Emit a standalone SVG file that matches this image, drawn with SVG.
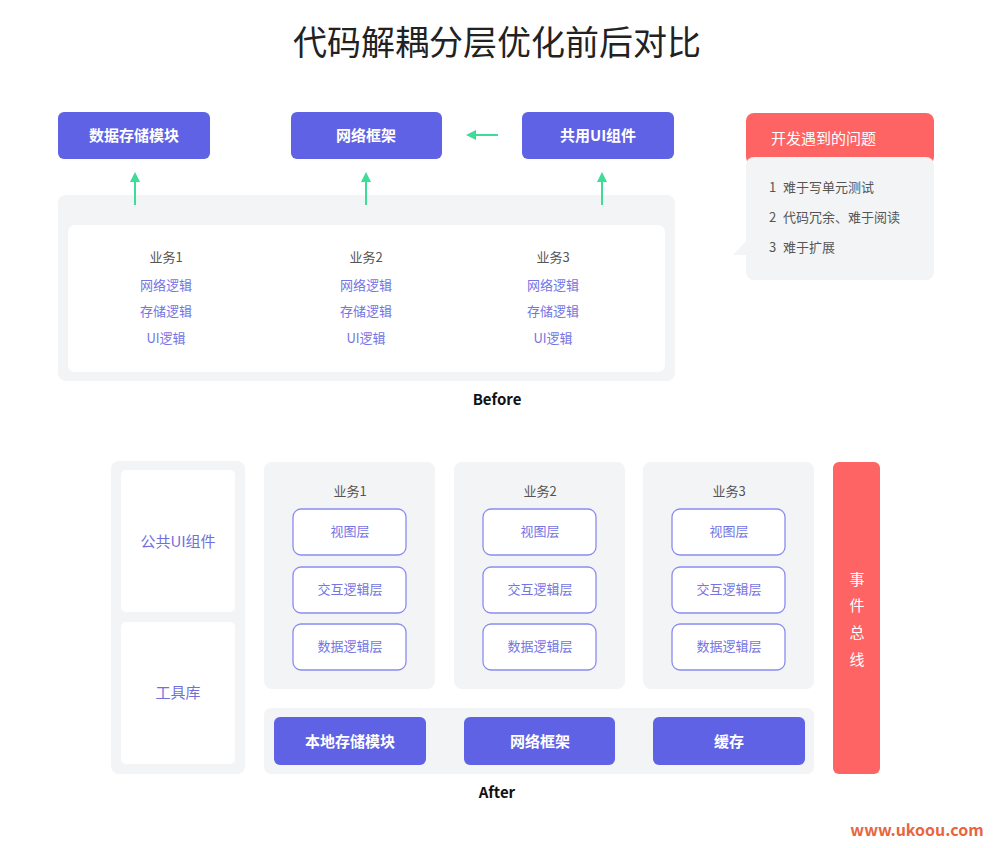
<svg xmlns="http://www.w3.org/2000/svg" width="1000" height="848" viewBox="0 0 1000 848">
<defs>
<style>
text{font-family:"Noto Sans CJK SC","Noto Sans",sans-serif;text-anchor:middle;dominant-baseline:central}
.title{font-size:34px;fill:#222}
.btn{fill:#6062e6}
.btnt{font-size:15px;fill:#fff;font-weight:bold}
.panel{fill:#f3f4f6}
.white{fill:#fff}
.biz{font-size:13px;fill:#555}
.logic{font-size:13px;fill:#7474e4}
.layer{fill:#fff;stroke:#8a8cf0;stroke-width:1.3}
.layert{font-size:13px;fill:#7474e4}
.lab{font-size:15px;font-weight:bold;fill:#111}
.prob{font-size:13px;fill:#555;text-anchor:start}
.arrow{stroke:#3ddc97;stroke-width:2;fill:none}
.side{font-size:15px;fill:#6f6fe0}
.bus{font-size:15px;fill:#fff}
</style>
<marker id="ah" viewBox="0 0 10 10" refX="8" refY="5" markerWidth="5" markerHeight="5" orient="auto">
<path d="M0,0 L10,5 L0,10 z" fill="#3ddc97"/>
</marker>
</defs>
<rect width="1000" height="848" fill="#fff"/>
<text class="title" x="497" y="40">代码解耦分层优化前后对比</text>

<!-- Before -->
<g id="before-container">
<rect class="panel" x="58" y="195" width="617" height="186" rx="8"/>
<rect class="white" x="68" y="225" width="597" height="147" rx="7"/>
</g>
<g id="before-biz1">
<text class="biz" x="166" y="256">业务1</text>
<text class="logic" x="166" y="284">网络逻辑</text>
<text class="logic" x="166" y="310">存储逻辑</text>
<text class="logic" x="166" y="337">UI逻辑</text>
</g>
<g id="before-biz2">
<text class="biz" x="366" y="256">业务2</text>
<text class="logic" x="366" y="284">网络逻辑</text>
<text class="logic" x="366" y="310">存储逻辑</text>
<text class="logic" x="366" y="337">UI逻辑</text>
</g>
<g id="before-biz3">
<text class="biz" x="553" y="256">业务3</text>
<text class="logic" x="553" y="284">网络逻辑</text>
<text class="logic" x="553" y="310">存储逻辑</text>
<text class="logic" x="553" y="337">UI逻辑</text>
</g>
<g id="node-storage">
<rect class="btn" x="58" y="112" width="152" height="47" rx="6"/>
<text class="btnt" x="134" y="134">数据存储模块</text>
</g>
<g id="node-network">
<rect class="btn" x="291" y="112" width="151" height="47" rx="6"/>
<text class="btnt" x="366" y="134">网络框架</text>
</g>
<g id="node-ui">
<rect class="btn" x="522" y="112" width="152" height="47" rx="6"/>
<text class="btnt" x="598" y="134">共用UI组件</text>
</g>
<g id="connectors">
<line class="arrow" x1="135" y1="205" x2="135" y2="174" marker-end="url(#ah)"/>
<line class="arrow" x1="366" y1="205" x2="366" y2="174" marker-end="url(#ah)"/>
<line class="arrow" x1="602" y1="205" x2="602" y2="174" marker-end="url(#ah)"/>
<line class="arrow" x1="498" y1="135" x2="468" y2="135" marker-end="url(#ah)"/>
</g>
<text class="lab" x="497" y="398">Before</text>

<g id="problems">
<rect x="746" y="113" width="188" height="52" rx="8" fill="#ff6464"/>
<text x="771" y="137" style="font-size:15px;fill:#fff;text-anchor:start">开发遇到的问题</text>
<rect class="panel" x="746" y="157" width="188" height="123" rx="8"/>
<path d="M747,240 L733,255 L747,255 z" fill="#f3f4f6"/>
<text class="prob" x="769" y="186">1<tspan x="783">难于写单元测试</tspan></text>
<text class="prob" x="769" y="216">2<tspan x="783">代码冗余、难于阅读</tspan></text>
<text class="prob" x="769" y="246">3<tspan x="783">难于扩展</tspan></text>
</g>

<!-- After -->
<g id="after-left">
<rect class="panel" x="111" y="461" width="134" height="313" rx="8"/>
<rect class="white" x="121" y="470" width="114" height="142" rx="5"/>
<rect class="white" x="121" y="622" width="114" height="142" rx="5"/>
<text class="side" x="178" y="540">公共UI组件</text>
<text class="side" x="178" y="691">工具库</text>
</g>
<g id="after-biz1">
<rect class="panel" x="264" y="462" width="171" height="227" rx="8"/>
<text class="biz" x="350" y="490">业务1</text>
<rect class="layer" x="293" y="509" width="113" height="46" rx="8"/>
<text class="layert" x="350" y="530">视图层</text>
<rect class="layer" x="293" y="567" width="113" height="46" rx="8"/>
<text class="layert" x="350" y="588">交互逻辑层</text>
<rect class="layer" x="293" y="624" width="113" height="46" rx="8"/>
<text class="layert" x="350" y="645">数据逻辑层</text>
</g>
<g id="after-biz2">
<rect class="panel" x="454" y="462" width="171" height="227" rx="8"/>
<text class="biz" x="540" y="490">业务2</text>
<rect class="layer" x="483" y="509" width="113" height="46" rx="8"/>
<text class="layert" x="540" y="530">视图层</text>
<rect class="layer" x="483" y="567" width="113" height="46" rx="8"/>
<text class="layert" x="540" y="588">交互逻辑层</text>
<rect class="layer" x="483" y="624" width="113" height="46" rx="8"/>
<text class="layert" x="540" y="645">数据逻辑层</text>
</g>
<g id="after-biz3">
<rect class="panel" x="643" y="462" width="171" height="227" rx="8"/>
<text class="biz" x="729" y="490">业务3</text>
<rect class="layer" x="672" y="509" width="113" height="46" rx="8"/>
<text class="layert" x="729" y="530">视图层</text>
<rect class="layer" x="672" y="567" width="113" height="46" rx="8"/>
<text class="layert" x="729" y="588">交互逻辑层</text>
<rect class="layer" x="672" y="624" width="113" height="46" rx="8"/>
<text class="layert" x="729" y="645">数据逻辑层</text>
</g>
<g id="after-bottom">
<rect class="panel" x="264" y="708" width="550" height="66" rx="7"/>
</g>
<g id="after-storage">
<rect class="btn" x="274" y="717" width="152" height="48" rx="6"/>
<text class="btnt" x="350" y="740">本地存储模块</text>
</g>
<g id="after-network">
<rect class="btn" x="464" y="717" width="151" height="48" rx="6"/>
<text class="btnt" x="540" y="740">网络框架</text>
</g>
<g id="after-cache">
<rect class="btn" x="653" y="717" width="152" height="48" rx="6"/>
<text class="btnt" x="729" y="740">缓存</text>
</g>
<g id="event-bus">
<rect x="833" y="462" width="47" height="312" rx="6" fill="#ff6464"/>
<text class="bus" x="857" y="578">事</text>
<text class="bus" x="857" y="604">件</text>
<text class="bus" x="857" y="631">总</text>
<text class="bus" x="857" y="658">线</text>
</g>
<text class="lab" x="497" y="791">After</text>
<text x="917" y="829" style="font-size:16px;font-weight:bold;fill:#e8663d">www.ukoou.com</text>
</svg>
